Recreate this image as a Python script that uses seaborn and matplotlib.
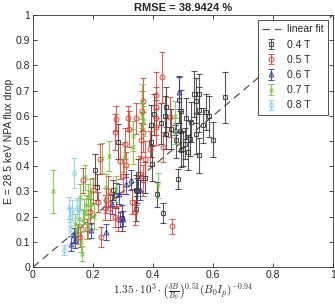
import numpy as np
import pandas as pd
import matplotlib
matplotlib.use("Agg")
import matplotlib.pyplot as plt
import seaborn as sns

# 0.4 T
x04 = [0.206, 0.214, 0.283, 0.267, 0.276, 0.342, 0.350, 0.344, 0.414, 0.433, 0.483, 0.553,
       0.600, 0.494, 0.506, 0.478, 0.522, 0.544, 0.567, 0.394, 0.428, 0.444, 0.394, 0.486,
       0.494, 0.536, 0.553, 0.553, 0.641, 0.578, 0.587, 0.442, 0.403, 0.439, 0.544, 0.511,
       0.461, 0.500, 0.528, 0.517, 0.489, 0.372, 0.296, 0.346, 0.396]
y04 = [0.387, 0.318, 0.497, 0.305, 0.285, 0.305, 0.370, 0.232, 0.289, 0.215, 0.351, 0.444,
       0.506, 0.466, 0.490, 0.503, 0.510, 0.530, 0.563, 0.563, 0.570, 0.530, 0.497, 0.663,
       0.621, 0.687, 0.687, 0.624, 0.673, 0.615, 0.598, 0.634, 0.606, 0.600, 0.660, 0.590,
       0.548, 0.470, 0.575, 0.455, 0.540, 0.355, 0.195, 0.303, 0.410]
e04 = [0.06, 0.05, 0.07, 0.04, 0.05, 0.06, 0.06, 0.05, 0.05, 0.04, 0.04, 0.07,
       0.07, 0.07, 0.06, 0.07, 0.07, 0.08, 0.07, 0.08, 0.08, 0.06, 0.06, 0.09,
       0.08, 0.09, 0.08, 0.09, 0.10, 0.07, 0.08, 0.08, 0.08, 0.08, 0.09, 0.08,
       0.08, 0.07, 0.08, 0.07, 0.08, 0.06, 0.05, 0.05, 0.07]

# 0.5 T
x05 = [0.272, 0.306, 0.222, 0.309, 0.167, 0.200, 0.217, 0.240, 0.156, 0.227, 0.244, 0.256,
       0.272, 0.283, 0.341, 0.356, 0.367, 0.361, 0.367, 0.411, 0.433, 0.462, 0.372, 0.430,
       0.367, 0.411, 0.411, 0.317, 0.278, 0.342, 0.411, 0.456, 0.320, 0.362, 0.180, 0.190,
       0.250, 0.300, 0.330, 0.290, 0.390, 0.150]
y05 = [0.536, 0.490, 0.430, 0.407, 0.344, 0.305, 0.258, 0.236, 0.119, 0.120, 0.265, 0.236,
       0.200, 0.192, 0.218, 0.370, 0.344, 0.503, 0.536, 0.556, 0.477, 0.162, 0.430, 0.753,
       0.659, 0.683, 0.634, 0.590, 0.589, 0.590, 0.593, 0.595, 0.548, 0.619, 0.150, 0.220,
       0.300, 0.360, 0.260, 0.420, 0.470, 0.130]
e05 = [0.07, 0.06, 0.06, 0.05, 0.05, 0.05, 0.04, 0.05, 0.04, 0.04, 0.05, 0.05,
       0.04, 0.05, 0.05, 0.07, 0.06, 0.07, 0.08, 0.07, 0.06, 0.03, 0.07, 0.10,
       0.09, 0.09, 0.08, 0.05, 0.05, 0.06, 0.07, 0.08, 0.07, 0.08, 0.04, 0.05,
       0.06, 0.07, 0.05, 0.07, 0.07, 0.04]

# 0.6 T
x06 = [0.128, 0.139, 0.136, 0.194, 0.242, 0.300, 0.291, 0.328, 0.356, 0.287, 0.486, 0.473,
       0.265, 0.310]
y06 = [0.093, 0.106, 0.126, 0.146, 0.139, 0.192, 0.190, 0.344, 0.305, 0.289, 0.693, 0.545,
       0.250, 0.330]
e06 = [0.03, 0.03, 0.03, 0.03, 0.03, 0.03, 0.03, 0.04, 0.04, 0.04, 0.065, 0.02,
       0.04, 0.04]

# 0.7 T
x07 = [0.067, 0.163, 0.173, 0.183, 0.176, 0.189, 0.147, 0.153, 0.167, 0.244, 0.278, 0.333,
       0.367, 0.472, 0.417, 0.365, 0.472, 0.160, 0.170, 0.185, 0.195, 0.205, 0.140, 0.158,
       0.229, 0.253, 0.303, 0.334, 0.364]
y07 = [0.300, 0.053, 0.357, 0.278, 0.245, 0.298, 0.132, 0.190, 0.185, 0.318, 0.310, 0.520,
       0.580, 0.540, 0.325, 0.600, 0.600, 0.100, 0.220, 0.160, 0.250, 0.200, 0.170, 0.280,
       0.432, 0.440, 0.438, 0.478, 0.656]
e07 = [0.085, 0.03, 0.05, 0.05, 0.04, 0.05, 0.04, 0.04, 0.04, 0.05, 0.05, 0.06,
       0.06, 0.05, 0.05, 0.05, 0.06, 0.04, 0.05, 0.05, 0.05, 0.05, 0.04, 0.05,
       0.06, 0.06, 0.06, 0.07, 0.07]

# 0.8 T
x08 = [0.102, 0.137, 0.122, 0.120, 0.131, 0.148, 0.155, 0.124]
y08 = [0.066, 0.373, 0.150, 0.235, 0.228, 0.235, 0.225, 0.200]
e08 = [0.02, 0.06, 0.03, 0.045, 0.04, 0.04, 0.04, 0.035]

# linear fit
fit_x = [0.0, 1.0]
fit_y = [0.0, 1.0]

groups = [
    ("0.4 T", x04, y04, e04, "#3a3a3a", "s"),
    ("0.5 T", x05, y05, e05, "#e0403a", "o"),
    ("0.6 T", x06, y06, e06, "#3838a8", "^"),
    ("0.7 T", x07, y07, e07, "#78c440", "x"),
    ("0.8 T", x08, y08, e08, "#8ad0e8", "d"),
]

sns.set_style("ticks", {"xtick.direction": "in", "ytick.direction": "in",
                        "axes.edgecolor": "#333333"})
plt.rcParams['font.family'] = ['Liberation Sans', 'DejaVu Sans']
plt.rcParams['mathtext.fontset'] = 'cm'

fig = plt.figure(figsize=(3.35, 3.07), dpi=100)
ax = fig.add_axes([0.0985, 0.130, 0.895, 0.821])

sns.lineplot(x=fit_x, y=fit_y, ax=ax, color="#555555", lw=0.9,
             linestyle=(0, (6, 4)), label="linear fit", zorder=1)

for name, xs, ys, es, col, mk in groups:
    df = pd.DataFrame({"x": xs, "y": ys, "err": es})
    ax.errorbar(df["x"], df["y"], yerr=df["err"], fmt=mk, color=col,
                mfc="none", mec=col, ms=3.5, mew=0.8, elinewidth=0.8,
                capsize=2, capthick=0.8, alpha=0.85, label=name, zorder=2)

ax.set_xlim(0, 1)
ax.set_ylim(0, 1)
ax.set_xticks(np.arange(0, 1.01, 0.2))
ax.set_xticklabels(["0", "0.2", "0.4", "0.6", "0.8", "1"])
ax.set_yticks(np.arange(0, 1.01, 0.1))
ax.set_yticklabels(["0", "0.1", "0.2", "0.3", "0.4", "0.5", "0.6", "0.7", "0.8", "0.9", "1"])
ax.tick_params(labelsize=7.5, length=3, width=0.6, top=True, right=True, pad=2)
for s in ax.spines.values():
    s.set_linewidth(0.6)

ax.set_title("RMSE = 38.9424 %", fontsize=8, fontweight="bold", pad=3)
ax.set_ylabel("E = 28.5 keV NPA flux drop", fontsize=7.5, labelpad=1)
ax.set_xlabel(r"$1.35\cdot 10^3 \cdot \left(\frac{\delta B}{B_0}\right)^{0.51} (B_0 I_p)^{-0.94}$",
              fontsize=8, labelpad=1)

leg = ax.legend(loc="upper right", fontsize=7.5, frameon=True, fancybox=False,
                edgecolor="#333333", framealpha=1, borderaxespad=0.5,
                handlelength=1.8, handletextpad=0.6, labelspacing=0.5,
                borderpad=0.4)
leg.get_frame().set_linewidth(0.6)

fig.savefig("out.png", dpi=100)
